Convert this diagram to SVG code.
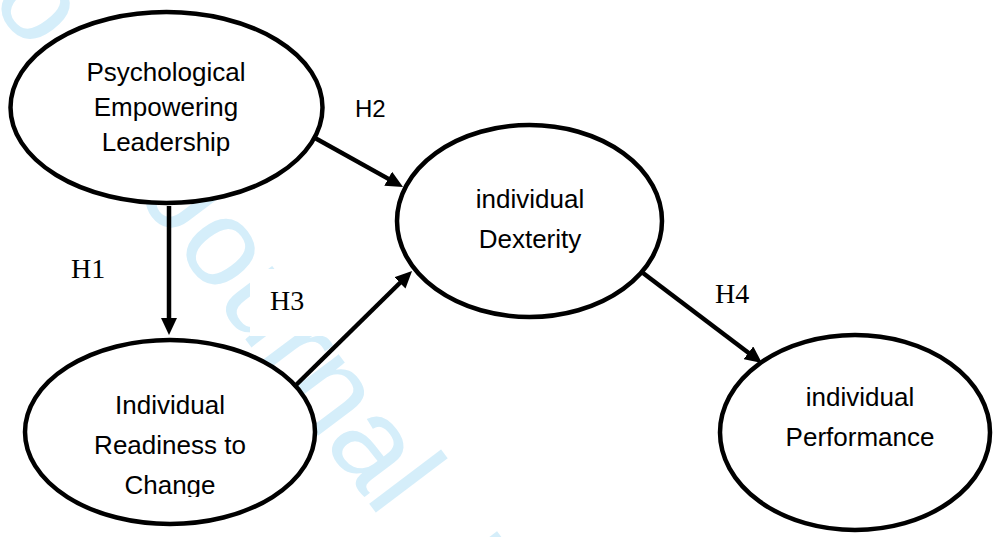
<svg xmlns="http://www.w3.org/2000/svg" width="993" height="537" viewBox="0 0 993 537">
<style>
.node{fill:#fff;stroke:#000;stroke-width:4.5}
.lbl{font-family:"Liberation Sans",Arial,sans-serif;font-size:26px;fill:#000;text-anchor:middle}
.hs{font-family:"Liberation Serif","Times New Roman",serif;font-size:28px;fill:#000}
.hsans{font-family:"Liberation Sans",Arial,sans-serif;font-size:24px;fill:#000}
.wm{font-family:"Liberation Sans",Arial,sans-serif;font-size:124px;fill:#d5eefa}
.edge{stroke:#000;stroke-width:4.5;fill:none;marker-end:url(#ah)}
</style>
<defs>
<marker id="ah" markerUnits="userSpaceOnUse" markerWidth="17" markerHeight="16" refX="7" refY="8" orient="auto">
<path d="M0,0 L17,8 L0,16 z" fill="#000"/>
</marker>
<clipPath id="clipC"><rect x="0" y="0" width="993" height="497"/></clipPath>
</defs>
<rect width="993" height="537" fill="#fff"/>
<g id="watermark" transform="translate(136.2,194.3) rotate(53)">
<text class="wm" x="-245.5" y="0">o</text>
<text class="wm" x="0" y="0">Journal</text>
<text class="wm" x="476" y="0">Pre-proof</text>
</g>
<rect x="250" y="269" width="80" height="67" fill="#fff"/>
<g id="node-pel">
<ellipse class="node" cx="166.5" cy="107.5" rx="156" ry="95.5"/>
<text class="lbl" x="166" y="81">Psychological</text>
<text class="lbl" x="166" y="116">Empowering</text>
<text class="lbl" x="166" y="151">Leadership</text>
</g>
<g id="node-dex">
<ellipse class="node" cx="529.5" cy="221" rx="132.5" ry="96"/>
<text class="lbl" x="530" y="208">individual</text>
<text class="lbl" x="530" y="248">Dexterity</text>
</g>
<g id="node-irc">
<ellipse class="node" cx="170" cy="432" rx="145" ry="92"/>
<g clip-path="url(#clipC)">
<text class="lbl" x="170" y="414">Individual</text>
<text class="lbl" x="170" y="454">Readiness to</text>
<text class="lbl" x="170" y="494">Change</text>
</g>
</g>
<g id="node-perf">
<ellipse class="node" cx="855" cy="432.5" rx="135" ry="97.5"/>
<text class="lbl" x="860" y="406">individual</text>
<text class="lbl" x="860" y="446">Performance</text>
</g>
<g id="connectors">
<line class="edge" x1="169" y1="206" x2="169" y2="325"/>
<line class="edge" x1="315" y1="138" x2="394.3" y2="182.1"/>
<line class="edge" x1="294" y1="387" x2="404.9" y2="278"/>
<line class="edge" x1="643" y1="273" x2="754" y2="357"/>
</g>
<g id="labels">
<text class="hs" x="71" y="278">H1</text>
<text class="hsans" x="355" y="117">H2</text>
<text class="hs" x="270" y="310">H3</text>
<text class="hs" x="715" y="303">H4</text>
</g>
</svg>
